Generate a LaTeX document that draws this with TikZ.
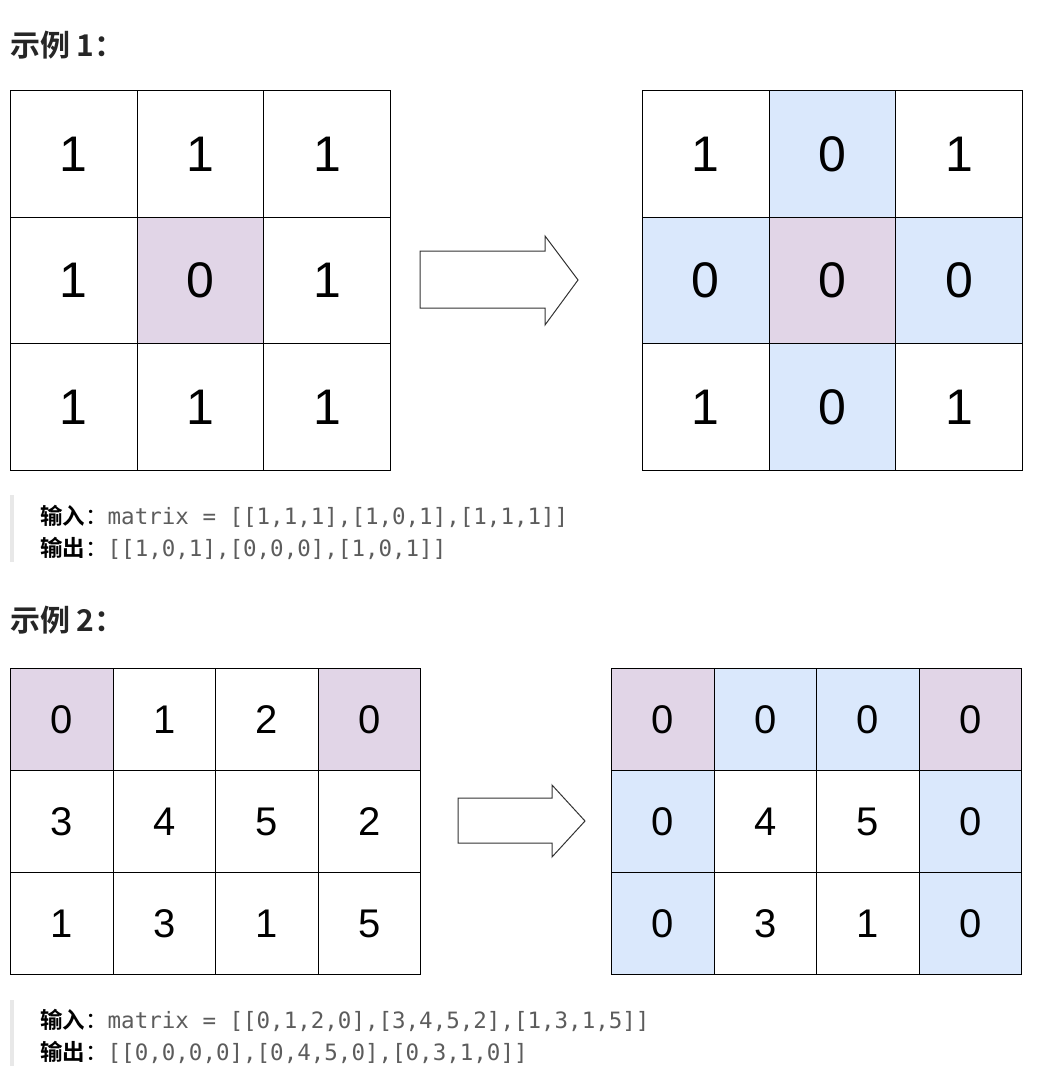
\documentclass[tikz,border=0pt]{standalone}
\usepackage{fontspec}
\setmainfont{Liberation Sans}
\setmonofont{DejaVu Sans Mono}
\newfontfamily\cjk{Noto Sans CJK SC}
\newfontfamily\cjkb{Noto Sans CJK SC Bold}
\definecolor{pur}{HTML}{E1D5E7}
\definecolor{blu}{HTML}{DAE8FC}
\definecolor{codegray}{HTML}{5C5C5C}
\definecolor{bar}{HTML}{E8E8E8}
\begin{document}
\begin{tikzpicture}[x=1pt,y=-1pt,
  cellA/.style={draw=black,line width=1pt,minimum width=126.7pt,minimum height=126.7pt,inner sep=0pt,anchor=north west,font=\fontsize{50}{50}\selectfont},
  cellB/.style={draw=black,line width=1pt,minimum width=102.5pt,minimum height=102pt,inner sep=0pt,anchor=north west,font=\fontsize{40}{40}\selectfont},
  ttl/.style={anchor=west,inner sep=0pt,font=\cjkb\fontsize{30}{30}\selectfont,text=black!85},
  code/.style={anchor=west,inner sep=0pt,font=\fontsize{22.5}{22.5}\selectfont},
  arr/.style={draw=black!80,line width=1pt,fill=white}]
\useasboundingbox (0,0) rectangle (1062,1082);
\node[ttl] (t1) at (10,45) {示例 1：};
\node[ttl] (t2) at (10,620) {示例 2：};
% example 1
\foreach \r/\row in {0/{1,1,1},1/{1,0,1},2/{1,1,1}}{
  \foreach \v [count=\c from 0] in \row {
    \ifnum\r=1 \ifnum\c=1 \def\fc{pur}\else\def\fc{white}\fi\else\def\fc{white}\fi
    \node[cellA,fill=\fc] (a\r\c) at (10+126.7*\c,90+126.7*\r) {\v};
  }}
\foreach \r/\row in {0/{1,0,1},1/{0,0,0},2/{1,0,1}}{
  \foreach \v [count=\c from 0] in \row {
    \def\fc{white}
    \ifnum\r=1 \def\fc{blu}\fi
    \ifnum\c=1 \def\fc{blu}\fi
    \ifnum\r=1 \ifnum\c=1 \def\fc{pur}\fi\fi
    \node[cellA,fill=\fc] (b\r\c) at (642+126.7*\c,90+126.7*\r) {\v};
  }}
\draw[arr] (420,251)--(545,251)--(545,236)--(578,280)--(545,325)--(545,308)--(420,308)--cycle;
\fill[bar] (10,495) rectangle (14,562);
\node[code] (i1) at (40,516) {{\cjkb 输入}{\cjk ：}\textcolor{codegray}{\ttfamily matrix = [[1,1,1],[1,0,1],[1,1,1]]}};
\node[code] (o1) at (40,548) {{\cjkb 输出}{\cjk ：}\textcolor{codegray}{\ttfamily [[1,0,1],[0,0,0],[1,0,1]]}};
% example 2
\foreach \r/\row in {0/{0,1,2,0},1/{3,4,5,2},2/{1,3,1,5}}{
  \foreach \v [count=\c from 0] in \row {
    \def\fc{white}
    \ifnum\r=0 \ifnum\c=0 \def\fc{pur}\fi \ifnum\c=3 \def\fc{pur}\fi\fi
    \node[cellB,fill=\fc] (c\r\c) at (10+102.5*\c,668+102*\r) {\v};
  }}
\foreach \r/\row in {0/{0,0,0,0},1/{0,4,5,0},2/{0,3,1,0}}{
  \foreach \v [count=\c from 0] in \row {
    \def\fc{white}
    \ifnum\r=0 \def\fc{blu}\fi
    \ifnum\c=0 \def\fc{blu}\fi
    \ifnum\c=3 \def\fc{blu}\fi
    \ifnum\r=0 \ifnum\c=0 \def\fc{pur}\fi \ifnum\c=3 \def\fc{pur}\fi\fi
    \node[cellB,fill=\fc] (d\r\c) at (611+102.5*\c,668+102*\r) {\v};
  }}
\draw[arr] (458,798)--(552,798)--(552,785)--(585,821)--(552,857)--(552,843)--(458,843)--cycle;
\fill[bar] (10,1000) rectangle (14,1066);
\node[code] (i2) at (40,1020) {{\cjkb 输入}{\cjk ：}\textcolor{codegray}{\ttfamily matrix = [[0,1,2,0],[3,4,5,2],[1,3,1,5]]}};
\node[code] (o2) at (40,1052) {{\cjkb 输出}{\cjk ：}\textcolor{codegray}{\ttfamily [[0,0,0,0],[0,4,5,0],[0,3,1,0]]}};
\end{tikzpicture}
\end{document}
